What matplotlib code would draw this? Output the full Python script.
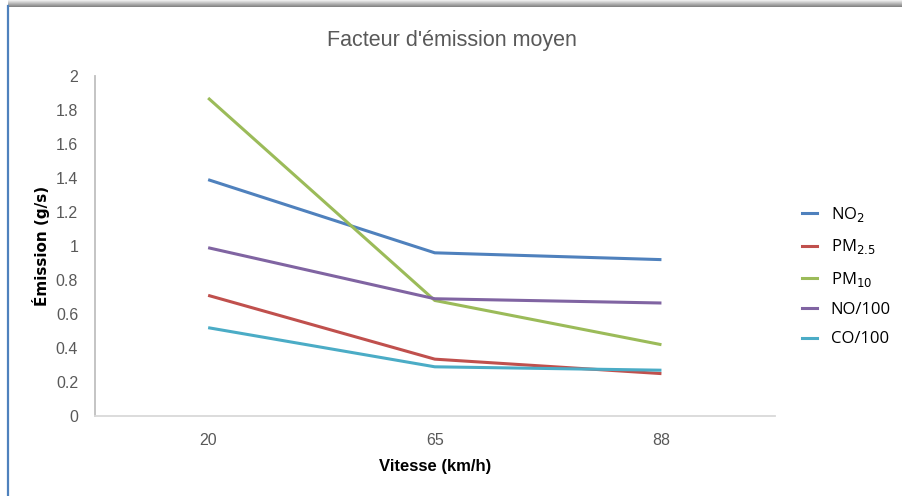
import numpy as np
import matplotlib.pyplot as plt
from matplotlib.lines import Line2D
from matplotlib.ticker import FuncFormatter

# Données
vitesses = ['20', '65', '88']
no2 = [1.39, 0.96, 0.92]
pm25 = [0.71, 0.335, 0.25]
pm10 = [1.87, 0.68, 0.42]
no_100 = [0.99, 0.69, 0.665]
co_100 = [0.52, 0.29, 0.27]

series = [
    ('NO$_2$', no2, '#4F81BD'),
    ('PM$_{2.5}$', pm25, '#C0504D'),
    ('PM$_{10}$', pm10, '#9BBB59'),
    ('NO/100', no_100, '#8064A2'),
    ('CO/100', co_100, '#4BACC6'),
]

narrow = ['Liberation Sans Narrow', 'Liberation Sans', 'DejaVu Sans']

fig = plt.figure(figsize=(9.03, 4.96), dpi=100)
ax = fig.add_axes([0.105, 0.161, 0.753, 0.686])

x = np.arange(len(vitesses))
for nom, valeurs, couleur in series:
    ax.plot(x, valeurs, color=couleur, lw=2.2, label=nom, solid_capstyle='butt')

ax.set_xlim(-0.5, len(vitesses) - 0.5)
ax.set_ylim(0, 2)
ax.set_xticks(x)
ax.set_xticklabels(vitesses, family=narrow, fontsize=11.5, color='#595959')
ax.set_yticks(np.arange(0, 2.01, 0.2))
ax.yaxis.set_major_formatter(FuncFormatter(lambda v, p: f'{round(v, 1):g}'))
for lab in ax.get_yticklabels():
    lab.set_family(narrow)
    lab.set_fontsize(11.5)
    lab.set_color('#595959')
ax.tick_params(axis='y', length=0, pad=12)
ax.tick_params(axis='x', length=0, pad=12)

for s in ['top', 'right']:
    ax.spines[s].set_visible(False)
ax.spines['left'].set_color('#BFBFBF')
ax.spines['bottom'].set_color('#D9D9D9')
ax.spines['left'].set_linewidth(1.3)
ax.spines['bottom'].set_linewidth(1.3)

ax.set_xlabel('Vitesse (km/h)', family=narrow, fontsize=12, fontweight='bold', labelpad=8)
ax.set_ylabel('Émission (g/s)', fontsize=11, fontweight='bold', family='DejaVu Sans', labelpad=4)

fig.text(0.5, 0.918, "Facteur d'émission moyen", ha='center', va='center',
         fontsize=15.5, color='#595959', family=narrow)

handles = [Line2D([0], [0], color=c, lw=2.2) for _, _, c in series]
leg = fig.legend(handles, [n for n, _, _ in series], loc='center left',
                 bbox_to_anchor=(0.872, 0.443), frameon=False,
                 handlelength=0.9, handletextpad=0.8, labelspacing=0.8,
                 prop={'family': 'Open Sans', 'size': 12})

# cadre : ombre grise en haut et trait bleu à gauche
ombre = fig.add_axes([0.009, 0.986, 0.991, 0.014])
ombre.imshow(np.linspace(0.5, 0.95, 20).reshape(-1, 1)[::-1], cmap='gray',
             aspect='auto', vmin=0, vmax=1)
ombre.axis('off')
fig.add_artist(Line2D([0.009, 0.009], [0, 0.988], color='#4F81BD', lw=1.6,
                      transform=fig.transFigure))

fig.savefig('out.png', dpi=100)
